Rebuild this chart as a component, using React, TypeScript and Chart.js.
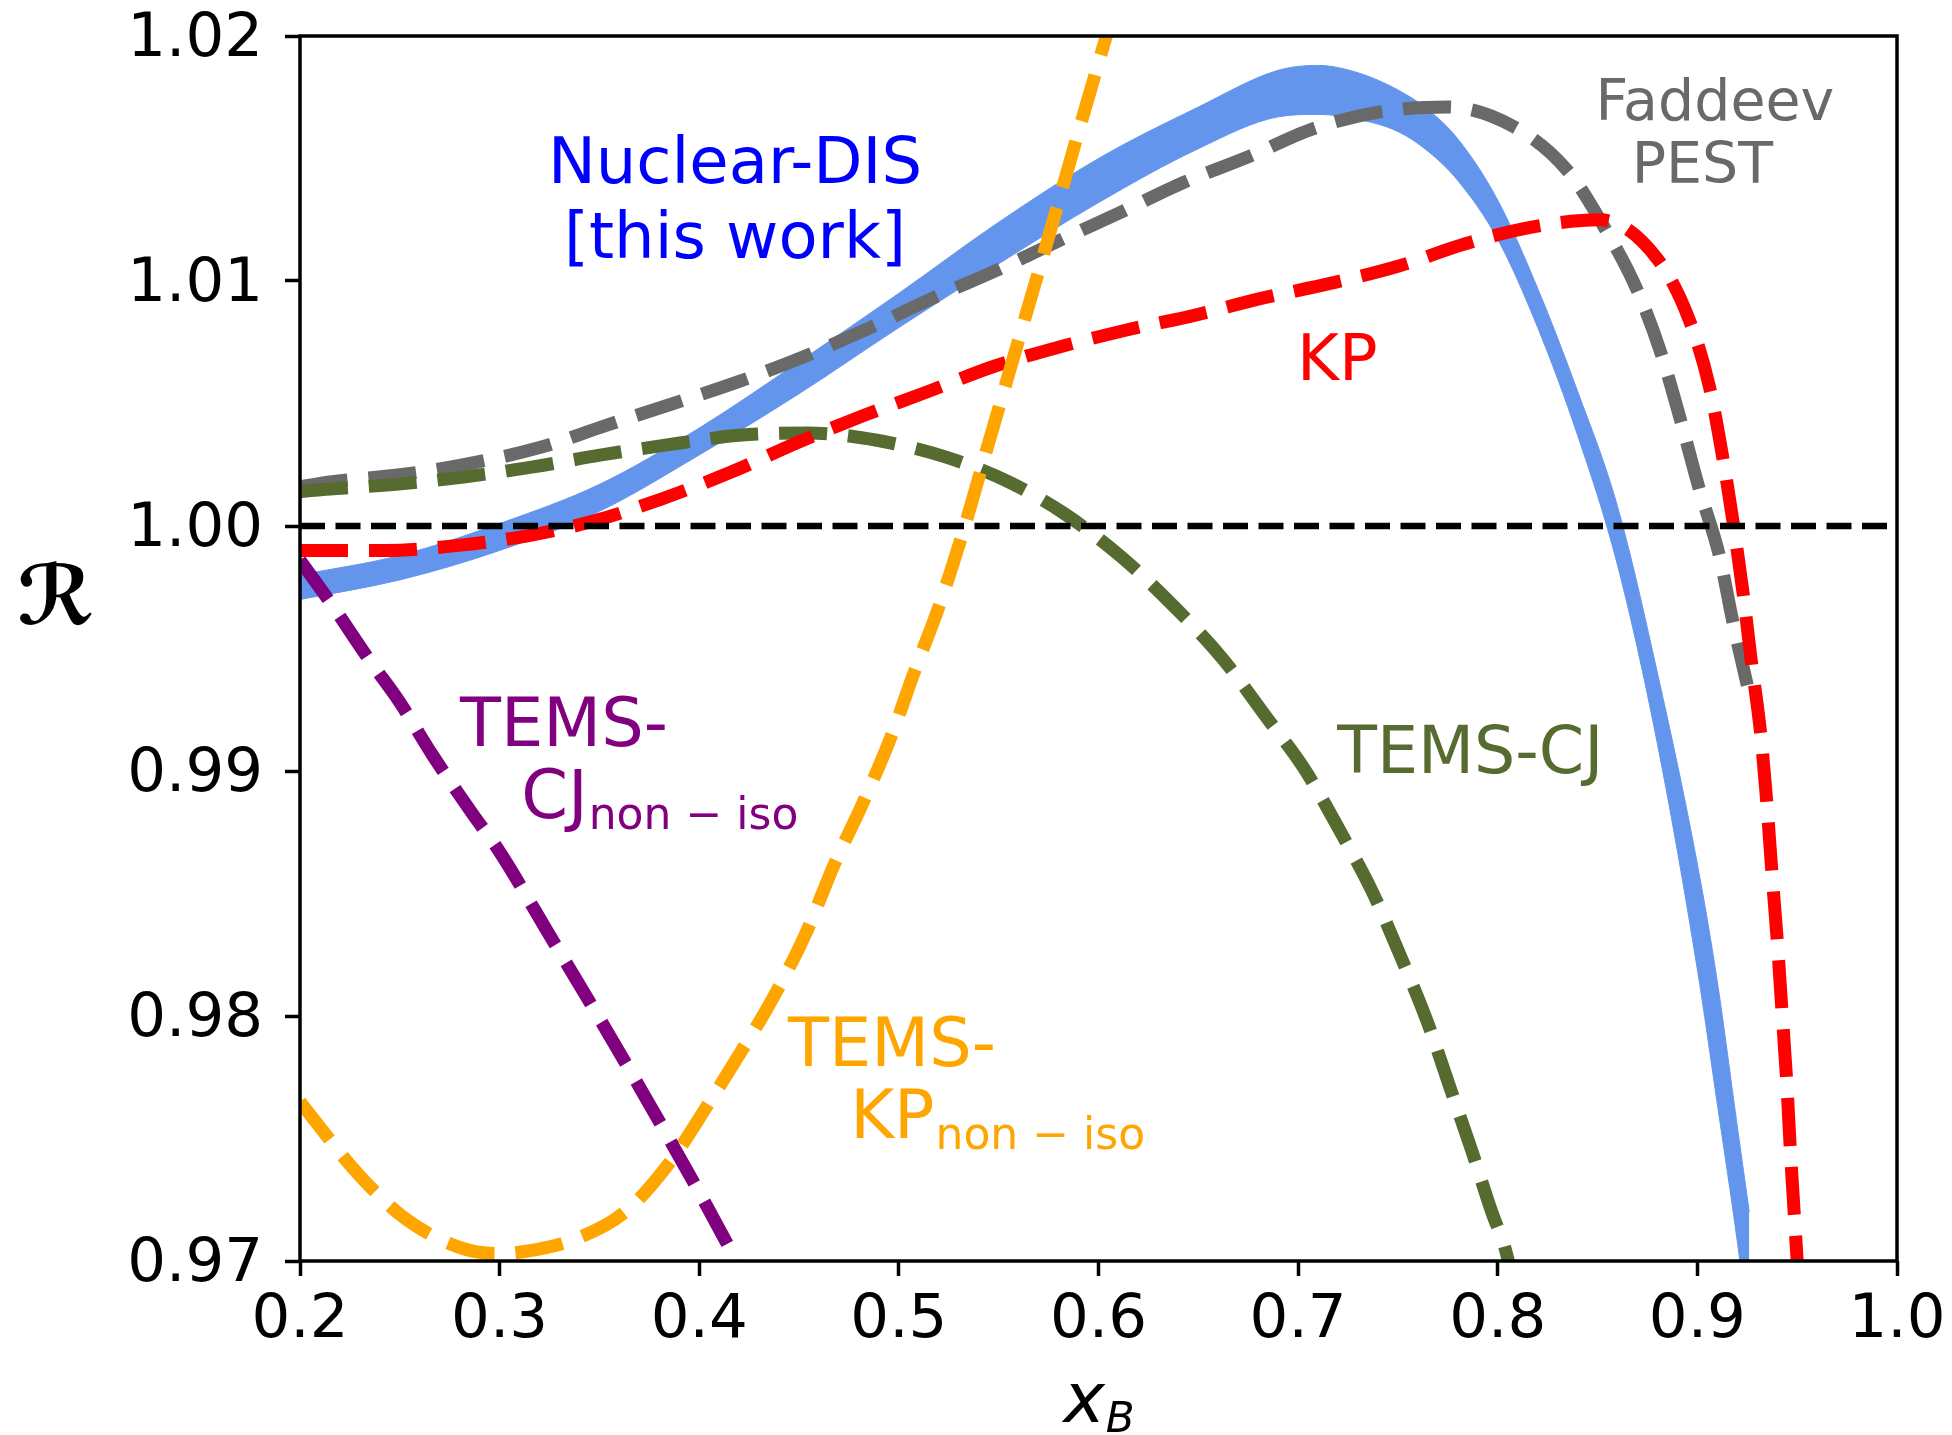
import React, { useEffect, useRef } from "react";
import { Chart, registerables } from "chart.js";

Chart.register(...registerables);

// ---- tick labels ----
const xTicks = [0.2, 0.3, 0.4, 0.5, 0.6, 0.7, 0.8, 0.9, 1.0];
const yTicks = [0.97, 0.98, 0.99, 1.0, 1.01, 1.02];

// ---- Nuclear-DIS band (this work) ----
const bandX = [0.20, 0.25, 0.30, 0.35, 0.40, 0.45, 0.50, 0.55, 0.60, 0.65, 0.69, 0.71, 0.73, 0.75, 0.765, 0.78, 0.80, 0.82, 0.84, 0.86, 0.88, 0.90, 0.91, 0.92, 0.926];
const bandLow = [0.9970, 0.9978, 0.9990, 1.0006, 1.0029, 1.0054, 1.0081, 1.0107, 1.0132, 1.0154, 1.0167, 1.0168, 1.0166, 1.0161, 1.0153, 1.0141, 1.0117, 1.0081, 1.0037, 0.9984, 0.9911, 0.9819, 0.9764, 0.9708, 0.9670];
const bandHigh = [0.9980, 0.9988, 1.0001, 1.0017, 1.0040, 1.0067, 1.0095, 1.0124, 1.0150, 1.0171, 1.0186, 1.0188, 1.0185, 1.0178, 1.0170, 1.0158, 1.0133, 1.0097, 1.0055, 1.0008, 0.9940, 0.9862, 0.9814, 0.9755, 0.9720];

// ---- Faddeev PEST ----
const faddeevX = [0.200, 0.215, 0.251, 0.282, 0.320, 0.353, 0.387, 0.420, 0.452, 0.483, 0.517, 0.548, 0.579, 0.611, 0.642, 0.676, 0.707, 0.741, 0.775, 0.808, 0.835, 0.854, 0.870, 0.882, 0.892, 0.901, 0.911, 0.918, 0.925];
const faddeevY = [1.0016, 1.0018, 1.0021, 1.0025, 1.0032, 1.0041, 1.0050, 1.0059, 1.0069, 1.0080, 1.0093, 1.0104, 1.0116, 1.0128, 1.0140, 1.0151, 1.0162, 1.0169, 1.0171, 1.0163, 1.0145, 1.0121, 1.0096, 1.0070, 1.0042, 1.0015, 0.9988, 0.9960, 0.9935];

// ---- KP ----
const kpX = [0.200, 0.213, 0.243, 0.278, 0.314, 0.347, 0.381, 0.416, 0.449, 0.482, 0.515, 0.547, 0.580, 0.614, 0.648, 0.682, 0.716, 0.750, 0.783, 0.817, 0.851, 0.880, 0.896, 0.906, 0.9125, 0.918, 0.923, 0.927, 0.9316, 0.9347, 0.9373, 0.940, 0.9423, 0.9447, 0.9466, 0.9487, 0.9500, 0.9506];
const kpY = [0.9990, 0.9990, 0.9990, 0.9992, 0.9996, 1.0002, 1.0011, 1.0022, 1.0034, 1.0045, 1.0055, 1.0065, 1.0073, 1.0080, 1.0086, 1.0093, 1.0099, 1.0106, 1.0115, 1.0122, 1.0125, 1.0109, 1.0084, 1.0057, 1.0029, 1.0001, 0.9972, 0.9945, 0.9916, 0.9888, 0.9859, 0.9831, 0.9803, 0.9774, 0.9745, 0.9717, 0.9700, 0.9692];

// ---- TEMS-CJ ----
const temsCjX = [0.200, 0.213, 0.248, 0.282, 0.316, 0.351, 0.383, 0.420, 0.454, 0.489, 0.524, 0.555, 0.583, 0.612, 0.638, 0.662, 0.685, 0.703, 0.722, 0.737, 0.751, 0.765, 0.776, 0.787, 0.797, 0.803, 0.806];
const temsCjY = [1.0014, 1.0015, 1.0017, 1.0020, 1.0024, 1.0029, 1.0033, 1.0037, 1.0038, 1.0035, 1.0028, 1.0018, 1.0005, 0.9987, 0.9967, 0.9946, 0.9921, 0.9901, 0.9874, 0.9851, 0.9825, 0.9797, 0.9771, 0.9745, 0.9720, 0.9707, 0.9698];

// ---- TEMS-CJ non-iso ----
const temsCjNonIsoX = [0.200, 0.215, 0.235, 0.250, 0.266, 0.286, 0.300, 0.325, 0.350, 0.375, 0.400, 0.420];
const temsCjNonIsoY = [0.9986, 0.9969, 0.9945, 0.9928, 0.9907, 0.9883, 0.9867, 0.9833, 0.9799, 0.9764, 0.9728, 0.9698];

// ---- TEMS-KP non-iso ----
const temsKpNonIsoX = [0.200, 0.2286, 0.2532, 0.282, 0.300, 0.3137, 0.338, 0.3628, 0.385, 0.4045, 0.4206, 0.436, 0.453, 0.4677, 0.482, 0.4956, 0.508, 0.520, 0.533, 0.545, 0.560, 0.575, 0.590, 0.605, 0.610];
const temsKpNonIsoY = [0.9765, 0.9736, 0.9717, 0.9705, 0.9703, 0.9704, 0.9709, 0.9720, 0.9740, 0.9764, 0.9785, 0.9806, 0.9833, 0.9862, 0.9887, 0.9913, 0.9941, 0.9967, 1.0000, 1.0034, 1.0076, 1.0118, 1.0161, 1.0203, 1.0217];

// ---- reference line R = 1 ----
const refX = [0.2, 1.0];
const refY = [1.0, 1.0];

// ---- text annotations (data coordinates of baseline) ----
const annotations = [
  { text: "Nuclear-DIS", sub: "", x: 0.4179, y: 1.01399, color: "#0000FF", size: 64, align: "center" },
  { text: "[this work]", sub: "", x: 0.4179, y: 1.01093, color: "#0000FF", size: 64, align: "center" },
  { text: "KP", sub: "", x: 0.6994, y: 1.00597, color: "#FF0000", size: 64, align: "left" },
  { text: "Faddeev", sub: "", x: 0.849, y: 1.01656, color: "#696969", size: 57, align: "left" },
  { text: "PEST", sub: "", x: 0.8671, y: 1.01399, color: "#696969", size: 57, align: "left" },
  { text: "TEMS-CJ", sub: "", x: 0.7196, y: 0.98993, color: "#556B2F", size: 65, align: "left" },
  { text: "TEMS-", sub: "", x: 0.2802, y: 0.99104, color: "#800080", size: 67, align: "left" },
  { text: "CJ", sub: "non − iso", x: 0.3108, y: 0.9881, color: "#800080", size: 67, align: "left" },
  { text: "TEMS-", sub: "", x: 0.4445, y: 0.97796, color: "#FFA500", size: 67, align: "left" },
  { text: "KP", sub: "non − iso", x: 0.4756, y: 0.97502, color: "#FFA500", size: 67, align: "left" },
];

const FONT = '"DejaVu Sans"';

const pts = (xs: number[], ys: number[]) => xs.map((x, i) => ({ x, y: ys[i] }));

const dashed = (label: string, xs: number[], ys: number[], color: string, order: number) => ({
  label,
  data: pts(xs, ys),
  borderColor: color,
  backgroundColor: color,
  borderWidth: 13,
  borderDash: [48, 21],
  borderCapStyle: "butt",
  pointRadius: 0,
  fill: false,
  cubicInterpolationMode: "monotone",
  clip: 0,
  order,
});

const decorPlugin = {
  id: "decor",
  afterDatasetsDraw(chart: any) {
    const { ctx, chartArea, scales } = chart;
    ctx.save();
    // spines
    ctx.strokeStyle = "#000";
    ctx.lineWidth = 3.5;
    ctx.strokeRect(chartArea.left, chartArea.top, chartArea.right - chartArea.left, chartArea.bottom - chartArea.top);
    // annotations
    ctx.textBaseline = "alphabetic";
    for (const a of annotations) {
      const px = scales.x.getPixelForValue(a.x);
      const py = scales.y.getPixelForValue(a.y);
      ctx.fillStyle = a.color;
      ctx.font = `${a.size}px ${FONT}`;
      ctx.textAlign = a.align as CanvasTextAlign;
      ctx.fillText(a.text, px, py);
      if (a.sub) {
        const w = ctx.measureText(a.text).width;
        ctx.font = `44px ${FONT}`;
        ctx.textAlign = "left";
        ctx.fillText(a.sub, px + w + 1, py + 11);
      }
    }
    ctx.restore();
  },
  afterDraw(chart: any) {
    const { ctx, chartArea } = chart;
    ctx.save();
    ctx.fillStyle = "#000";
    // y title (upright script R)
    ctx.font = `bold 82px ${FONT}`;
    ctx.textAlign = "center";
    ctx.textBaseline = "alphabetic";
    ctx.fillText("ℛ", 56, 624);
    // x title x_B
    const cx = (chartArea.left + chartArea.right) / 2;
    ctx.font = `italic 70px ${FONT}`;
    const wx = ctx.measureText("x").width;
    ctx.font = `italic 42px ${FONT}`;
    const wb = ctx.measureText("B").width;
    const start = cx - (wx + wb) / 2;
    const base = chartArea.bottom + 161;
    ctx.textAlign = "left";
    ctx.font = `italic 70px ${FONT}`;
    ctx.fillText("x", start, base);
    ctx.font = `italic 42px ${FONT}`;
    ctx.fillText("B", start + wx + 1, base + 10);
    ctx.restore();
  },
};

export default function App() {
  const ref = useRef<HTMLCanvasElement>(null);
  useEffect(() => {
    const canvas = ref.current!;
    const chart = new Chart(canvas, {
      type: "line",
      data: {
        datasets: [
          dashed("TEMS-CJ non-iso", temsCjNonIsoX, temsCjNonIsoY, "#800080", 1),
          dashed("TEMS-KP non-iso", temsKpNonIsoX, temsKpNonIsoY, "#FFA500", 1),
          dashed("KP", kpX, kpY, "#FF0000", 2),
          dashed("TEMS-CJ", temsCjX, temsCjY, "#556B2F", 2),
          dashed("Faddeev PEST", faddeevX, faddeevY, "#696969", 3),
          {
            label: "R = 1",
            data: pts(refX, refY),
            borderColor: "#000",
            borderWidth: 6.5,
            borderDash: [25, 10.5],
            pointRadius: 0,
            fill: false,
            clip: 0,
            order: 1,
          },
          {
            label: "Nuclear-DIS low",
            data: pts(bandX, bandLow),
            borderColor: "#6495ED",
            backgroundColor: "#6495ED",
            borderWidth: 1,
            pointRadius: 0,
            fill: false,
            cubicInterpolationMode: "monotone",
            clip: 0,
            order: 10,
          },
          {
            label: "Nuclear-DIS high",
            data: pts(bandX, bandHigh),
            borderColor: "#6495ED",
            backgroundColor: "#6495ED",
            borderWidth: 1,
            pointRadius: 0,
            fill: "-1",
            cubicInterpolationMode: "monotone",
            clip: 0,
            order: 10,
          },
        ] as any,
      },
      options: {
        responsive: false,
        animation: false,
        devicePixelRatio: 1,
        events: [],
        layout: { padding: { left: 0, top: 36, right: 55, bottom: 0 } },
        plugins: {
          legend: { display: false },
          tooltip: { enabled: false },
          title: { display: false },
        },
        scales: {
          x: {
            type: "linear",
            min: 0.2,
            max: 1.0,
            afterBuildTicks: (s: any) => {
              s.ticks = xTicks.map((v) => ({ value: v }));
            },
            afterFit: (s: any) => {
              s.height = 174;
              s.paddingLeft = 0;
              s.paddingRight = 0;
            },
            grid: { drawOnChartArea: false, drawTicks: true, tickLength: 15, tickWidth: 3.5, tickColor: "#000" },
            border: { display: false },
            ticks: {
              color: "#000",
              font: { family: "DejaVu Sans", size: 61, lineHeight: 1 },
              padding: 15,
              maxRotation: 0,
              autoSkip: false,
              callback: (v: any) => Number(v).toFixed(1),
            },
          },
          y: {
            type: "linear",
            min: 0.97,
            max: 1.02,
            afterBuildTicks: (s: any) => {
              s.ticks = yTicks.map((v) => ({ value: v }));
            },
            afterFit: (s: any) => {
              s.width = 300;
              s.paddingTop = 0;
              s.paddingBottom = 0;
            },
            grid: { drawOnChartArea: false, drawTicks: true, tickLength: 15, tickWidth: 3.5, tickColor: "#000" },
            border: { display: false },
            ticks: {
              color: "#000",
              font: { family: "DejaVu Sans", size: 61, lineHeight: 0.4 },
              padding: 22,
              labelOffset: 4,
              autoSkip: false,
              callback: (v: any) => Number(v).toFixed(2),
            },
          },
        },
      } as any,
      plugins: [decorPlugin],
    });
    return () => chart.destroy();
  }, []);

  return (
    <div style={{ position: "absolute", left: 0, top: 0, width: 1952, height: 1435, background: "#fff" }}>
      <canvas ref={ref} width={1952} height={1435} style={{ width: 1952, height: 1435, display: "block" }} />
    </div>
  );
}
